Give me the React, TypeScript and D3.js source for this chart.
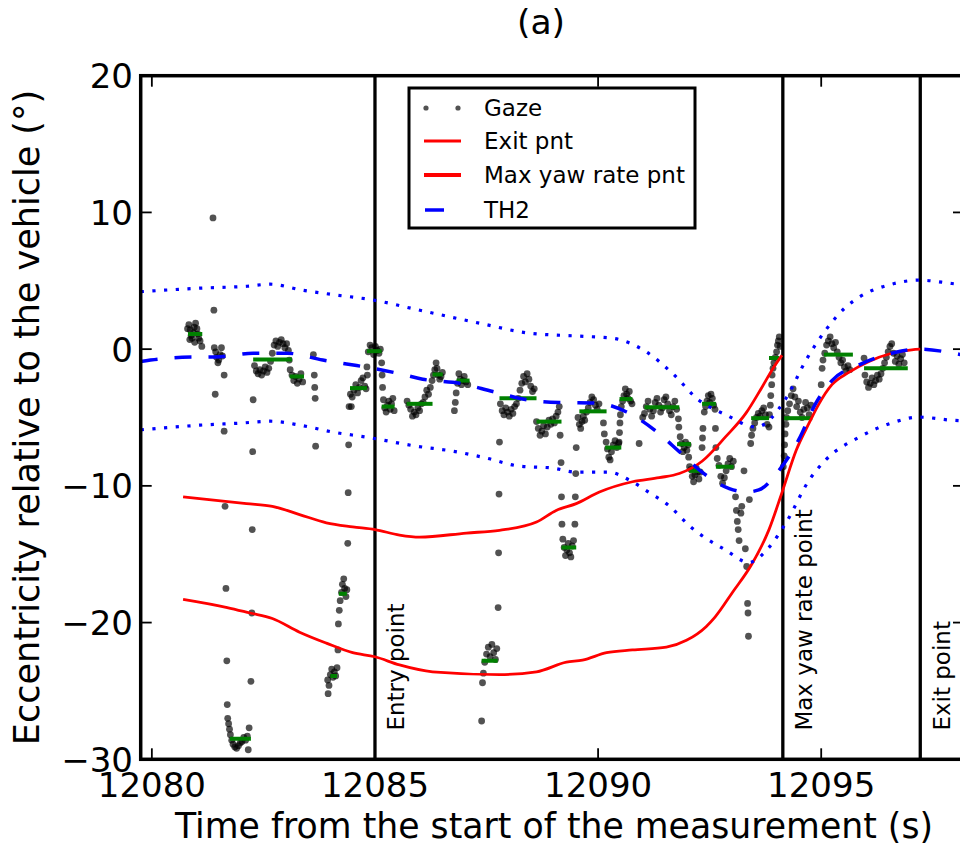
import React from "react";
import * as d3 from "d3";

// ---------- data ----------
const xTicks = [12080, 12085, 12090, 12095];
const yTicks = [-30, -20, -10, 0, 10, 20];

// gaze samples [time (s), eccentricity (deg)]
const gaze: [number, number][] = [
  [12080.80, 1.5], [12080.83, 1.8], [12080.85, 0.7], [12080.86, 1.4], [12080.88, 1.0], [12080.90, 0.8],
  [12080.93, 1.2], [12080.95, 1.6], [12080.96, 0.5], [12080.98, 1.9], [12081.01, 1.5], [12081.03, 1.1],
  [12081.05, 0.8], [12081.08, 0.6], [12081.12, 0.2],
  [12081.37, 9.6], [12081.39, 2.85],
  [12081.40, 0.1], [12081.43, -0.2], [12081.45, -0.6], [12081.48, -1.0], [12081.50, -0.8], [12081.53, -0.4],
  [12081.56, 0.1], [12081.58, -0.5], [12081.42, -3.3], [12081.62, -1.9], [12081.62, -6.0],
  [12081.64, -11.5], [12081.66, -17.5], [12081.68, -22.8], [12081.69, -26.0],
  [12081.70, -27.0], [12081.72, -27.4], [12081.74, -27.8], [12081.76, -28.2], [12081.79, -28.6],
  [12081.82, -28.9], [12081.86, -29.1], [12081.90, -29.2], [12081.94, -29.0], [12081.98, -28.8],
  [12082.02, -28.7], [12082.06, -28.4], [12082.10, -28.6], [12082.14, -28.3], [12082.18, -27.7],
  [12082.16, -29.3],
  [12082.22, -24.3], [12082.24, -19.3], [12082.25, -13.2], [12082.26, -7.5], [12082.27, -3.7],
  [12082.30, -1.2], [12082.34, -1.6], [12082.38, -1.8], [12082.42, -1.5], [12082.46, -1.9], [12082.50, -1.6],
  [12082.54, -1.3], [12082.58, -1.7], [12082.62, -1.4], [12082.66, -0.9], [12082.70, -0.3], [12082.74, 0.3],
  [12082.78, 0.6], [12082.82, 0.2], [12082.86, 0.5], [12082.90, 0.7], [12082.94, 0.4], [12082.98, 0.1],
  [12083.02, 0.4], [12083.06, -0.1], [12083.08, -0.8],
  [12083.10, -1.5], [12083.14, -1.9], [12083.18, -2.3], [12083.22, -2.0], [12083.26, -2.5], [12083.30, -2.2],
  [12083.34, -1.8], [12083.38, -2.4],
  [12083.62, -0.4], [12083.64, -1.9], [12083.65, -2.8], [12083.66, -3.6], [12083.67, -7.1],
  [12083.94, -24.2], [12083.95, -25.2], [12083.97, -24.6], [12084.00, -23.8], [12084.03, -23.4],
  [12084.06, -24.0], [12084.09, -23.6], [12084.12, -23.9], [12084.15, -23.3],
  [12084.17, -22.0], [12084.18, -20.1],
  [12084.20, -19.1], [12084.22, -18.4], [12084.25, -17.8], [12084.27, -17.2], [12084.30, -16.8],
  [12084.32, -17.5], [12084.35, -18.1], [12084.37, -17.6],
  [12084.39, -14.2], [12084.40, -10.5], [12084.41, -7.0], [12084.42, -4.2],
  [12084.45, -3.3], [12084.47, -4.2], [12084.49, -3.5], [12084.53, -3.0], [12084.57, -2.6], [12084.61, -3.2],
  [12084.65, -2.8], [12084.69, -2.3], [12084.73, -2.1], [12084.77, -2.7], [12084.80, -2.9],
  [12084.82, -1.3], [12084.83, -1.9],
  [12084.85, -0.2], [12084.89, 0.3], [12084.93, 0.1], [12084.97, -0.4], [12085.01, 0.2], [12085.05, -0.1],
  [12085.09, -0.3], [12085.12, 0.0],
  [12085.15, -1.0], [12085.16, -1.9], [12085.17, -2.8],
  [12085.19, -3.7], [12085.22, -4.3], [12085.25, -4.6], [12085.28, -4.1], [12085.31, -3.8], [12085.34, -4.4],
  [12085.37, -4.0], [12085.40, -3.6], [12085.43, -4.5],
  [12085.72, -3.8], [12085.76, -4.1], [12085.80, -4.4], [12085.84, -4.9], [12085.88, -4.6], [12085.92, -4.8],
  [12085.96, -4.3], [12086.00, -4.5], [12086.04, -4.0], [12086.08, -3.9], [12086.12, -3.5], [12086.16, -3.0],
  [12086.20, -3.3], [12086.24, -2.8],
  [12086.28, -2.3], [12086.31, -1.9], [12086.34, -1.5], [12086.37, -1.0], [12086.39, -1.4], [12086.42, -1.9],
  [12086.45, -2.2], [12086.48, -2.0], [12086.51, -1.7],
  [12086.78, -4.5], [12086.80, -3.9], [12086.82, -3.2],
  [12086.85, -2.5], [12086.88, -1.8], [12086.91, -2.2], [12086.94, -2.6], [12086.97, -2.3], [12087.00, -2.0],
  [12087.04, -2.4], [12087.08, -2.6],
  [12087.39, -27.2], [12087.41, -24.4], [12087.43, -23.7], [12087.46, -22.9], [12087.50, -22.3],
  [12087.54, -21.8], [12087.58, -22.5], [12087.62, -21.6], [12087.66, -22.2], [12087.70, -22.7],
  [12087.73, -21.9],
  [12087.76, -18.9], [12087.77, -14.9], [12087.78, -10.6], [12087.79, -6.8],
  [12087.81, -4.0], [12087.85, -4.5], [12087.89, -4.8], [12087.93, -4.3], [12087.97, -4.6], [12088.01, -4.9],
  [12088.05, -4.4], [12088.09, -4.7], [12088.13, -4.2], [12088.17, -4.0], [12088.21, -3.6], [12088.25, -3.0],
  [12088.29, -2.5], [12088.33, -2.0], [12088.37, -2.4], [12088.41, -1.8], [12088.45, -2.2], [12088.49, -2.7],
  [12088.53, -3.1], [12088.57, -2.9],
  [12088.62, -5.3], [12088.66, -5.8], [12088.70, -6.3], [12088.74, -6.0], [12088.78, -5.6], [12088.82, -6.2],
  [12088.86, -5.7], [12088.90, -5.2], [12088.94, -5.5], [12088.98, -5.1], [12089.02, -5.4], [12089.06, -4.9],
  [12089.10, -4.6], [12089.13, -4.2],
  [12089.15, -6.3], [12089.17, -8.3], [12089.18, -10.8], [12089.19, -12.8],
  [12089.21, -13.9], [12089.24, -14.5], [12089.27, -15.1], [12089.30, -14.7], [12089.33, -14.2],
  [12089.36, -14.9], [12089.39, -15.2], [12089.42, -14.4], [12089.45, -14.0],
  [12089.48, -12.8], [12089.49, -10.8], [12089.50, -9.1], [12089.51, -7.2],
  [12089.55, -5.0], [12089.58, -5.5], [12089.61, -5.8], [12089.64, -5.3], [12089.67, -4.9], [12089.70, -5.2],
  [12089.74, -4.6], [12089.78, -4.3], [12089.82, -3.9], [12089.86, -3.5], [12089.90, -3.7], [12089.94, -4.1],
  [12089.98, -4.4], [12090.02, -4.0],
  [12090.12, -5.4], [12090.14, -6.2],
  [12090.18, -6.8], [12090.21, -7.3], [12090.24, -7.9], [12090.27, -8.1], [12090.30, -7.5], [12090.34, -7.0],
  [12090.38, -6.7], [12090.42, -7.2], [12090.46, -6.9],
  [12090.47, -6.8], [12090.48, -6.1], [12090.49, -5.4], [12090.50, -4.8],
  [12090.52, -4.2], [12090.55, -3.8], [12090.58, -3.4], [12090.61, -2.9], [12090.64, -3.3], [12090.67, -3.6],
  [12090.70, -3.1], [12090.73, -3.8], [12090.76, -4.0],
  [12090.92, -6.9],
  [12091.00, -5.0], [12091.04, -4.7], [12091.08, -4.2], [12091.12, -3.8], [12091.16, -4.4], [12091.20, -4.9],
  [12091.24, -4.5], [12091.28, -3.9], [12091.32, -3.6], [12091.36, -4.1], [12091.40, -4.6], [12091.44, -4.3],
  [12091.48, -3.7], [12091.52, -3.5], [12091.56, -4.0], [12091.60, -4.5], [12091.64, -4.8], [12091.68, -4.2],
  [12091.72, -3.8], [12091.76, -4.4], [12091.80, -5.1], [12091.81, -5.7],
  [12091.84, -6.4], [12091.87, -6.9], [12091.90, -7.5], [12091.93, -7.2], [12091.96, -6.8], [12091.99, -7.4],
  [12092.02, -7.0], [12092.03, -7.9], [12092.05, -8.6],
  [12092.08, -8.8], [12092.11, -9.3], [12092.14, -9.7], [12092.17, -9.2], [12092.20, -8.7], [12092.23, -9.0],
  [12092.26, -9.5], [12092.29, -9.0],
  [12092.33, -7.2], [12092.34, -6.5], [12092.35, -5.8],
  [12092.38, -4.6], [12092.41, -4.2], [12092.44, -3.8], [12092.47, -3.4], [12092.50, -3.9], [12092.53, -3.3],
  [12092.56, -3.6], [12092.59, -4.1], [12092.62, -4.4],
  [12092.63, -5.8], [12092.64, -7.2],
  [12092.67, -8.0], [12092.71, -8.5], [12092.75, -9.3], [12092.79, -9.8], [12092.83, -9.4], [12092.87, -8.9],
  [12092.91, -8.4], [12092.95, -8.0], [12092.99, -8.6], [12093.03, -8.2],
  [12093.08, -10.8], [12093.10, -11.8], [12093.12, -12.6], [12093.14, -13.2], [12093.16, -14.0],
  [12093.20, -12.0], [12093.22, -11.5], [12093.27, -8.9], [12093.30, -14.6], [12093.33, -15.9],
  [12093.35, -18.6], [12093.36, -19.3], [12093.37, -21.0], [12093.39, -11.0],
  [12093.42, -6.9], [12093.44, -6.3], [12093.47, -5.8], [12093.51, -5.4], [12093.55, -5.0], [12093.59, -4.7],
  [12093.63, -4.9], [12093.67, -4.5], [12093.71, -4.3], [12093.75, -4.8], [12093.79, -5.5],
  [12093.83, -5.7], [12093.84, -4.8], [12093.86, -4.1], [12093.87, -3.4], [12093.89, -2.6], [12093.90, -1.9],
  [12093.92, -1.4],
  [12093.94, -1.0], [12093.97, -0.6], [12094.00, -0.2], [12094.02, 0.3], [12094.04, 0.6], [12094.06, 0.9],
  [12094.08, 0.2],
  [12094.15, -8.6], [12094.17, -7.8], [12094.18, -7.0], [12094.19, -6.2], [12094.21, -5.5], [12094.22, -5.0],
  [12094.25, -4.5], [12094.29, -4.0], [12094.33, -3.4], [12094.37, -2.9], [12094.41, -3.5], [12094.45, -4.2],
  [12094.49, -3.8], [12094.53, -4.6], [12094.57, -5.0], [12094.61, -4.4], [12094.65, -3.9], [12094.69, -4.3],
  [12094.73, -4.8], [12094.77, -4.1],
  [12095.00, -2.6], [12095.02, -1.4], [12095.04, -0.8],
  [12095.08, -0.3], [12095.12, 0.3], [12095.16, 0.6], [12095.20, 0.9], [12095.24, 0.4], [12095.28, 0.1],
  [12095.32, 0.5], [12095.36, -0.2], [12095.40, -0.6], [12095.44, -1.0], [12095.48, -0.8], [12095.52, -1.3],
  [12095.56, -1.6], [12095.60, -1.2], [12095.64, -1.5],
  [12095.96, -0.65], [12095.98, -1.9], [12096.02, -2.4], [12096.06, -2.8], [12096.10, -2.5], [12096.14, -2.1],
  [12096.18, -2.6], [12096.22, -2.3], [12096.26, -1.9], [12096.30, -2.2], [12096.34, -1.8], [12096.38, -1.4],
  [12096.42, -1.0], [12096.46, -0.6], [12096.50, -0.2], [12096.54, 0.2], [12096.58, 0.4], [12096.62, -0.3],
  [12096.66, -0.9], [12096.70, -0.5], [12096.74, -1.1], [12096.78, -0.7], [12096.82, -0.4], [12096.86, -1.0],
];

// fixations (green): start, end, mean eccentricity
const fixStart = [12080.81, 12081.75, 12082.27, 12083.09, 12084.00, 12084.19, 12084.44, 12084.82, 12085.15,
  12085.71, 12086.29, 12086.83, 12087.39, 12087.79, 12088.62, 12089.18, 12089.58, 12090.16, 12090.48,
  12091.04, 12091.77, 12092.04, 12092.33, 12092.64, 12093.43, 12093.83, 12094.17, 12095.06, 12095.96];
const fixEnd = [12081.13, 12082.22, 12083.14, 12083.41, 12084.15, 12084.37, 12084.82, 12085.15, 12085.44,
  12086.29, 12086.52, 12087.12, 12087.75, 12088.62, 12089.18, 12089.51, 12090.19, 12090.52, 12090.77,
  12091.82, 12092.08, 12092.33, 12092.64, 12093.04, 12093.83, 12094.06, 12094.80, 12095.71, 12096.94];
const fixValue = [1.1, -28.5, -0.75, -2.0, -23.9, -17.9, -2.85, -0.15, -4.2,
  -4.0, -1.85, -2.3, -22.8, -3.6, -5.3, -14.5, -4.55, -7.2, -3.65,
  -4.25, -6.95, -8.9, -4.0, -8.6, -5.05, -0.65, -5.05, -0.4, -1.4];

// "Max yaw rate pnt" curve
const maxYawT = [12080.70, 12082.12, 12082.70, 12083.31, 12083.91, 12084.50, 12085.00, 12085.55, 12086.00,
  12087.05, 12087.79, 12088.62, 12089.06, 12089.51, 12090.03, 12090.77, 12091.37, 12091.82, 12092.33,
  12092.86, 12093.31, 12093.67, 12093.94, 12094.12];
const maxYawY = [-10.8, -11.3, -11.5, -12.1, -12.7, -13.0, -13.2, -13.6, -13.75,
  -13.45, -13.25, -12.65, -11.8, -11.3, -10.45, -9.7, -9.4, -9.1, -8.2,
  -6.4, -4.7, -2.8, -1.3, -0.45];

// "Exit pnt" curve
const exitT = [12080.70, 12081.69, 12082.20, 12082.70, 12083.31, 12083.91, 12084.50, 12085.00, 12085.55,
  12086.29, 12087.79, 12088.62, 12089.29, 12089.65, 12090.19, 12090.77, 12091.53, 12091.98, 12092.42,
  12092.62, 12093.01, 12093.45, 12093.83, 12094.12, 12094.44, 12094.73, 12094.95, 12095.24, 12095.62,
  12096.07, 12096.58, 12097.03, 12097.22];
const exitY = [-18.3, -18.9, -19.3, -19.7, -20.7, -21.5, -22.2, -22.5, -23.1,
  -23.6, -23.8, -23.6, -22.9, -22.75, -22.2, -22.0, -21.8, -21.3, -20.3,
  -19.6, -17.8, -15.7, -13.2, -10.5, -7.4, -5.4, -4.0, -2.6, -1.7,
  -0.9, -0.3, -0.05, 0.0];

// TH2 (dashed) and its bounds (dotted)
const th2T = [12079.75, 12080.68, 12081.53, 12082.27, 12083.03, 12083.83, 12084.59, 12084.95, 12085.49,
  12086.07, 12086.90, 12087.64, 12088.40, 12089.13, 12089.97, 12090.64, 12091.26, 12091.82, 12092.33,
  12092.94, 12093.33, 12093.60, 12094.06, 12094.50, 12094.88, 12095.24, 12095.85, 12096.58, 12097.19,
  12097.80, 12098.20];
const th2Y = [-0.9, -0.6, -0.55, -0.3, -0.3, -0.8, -1.2, -1.4, -1.75,
  -2.2, -2.5, -3.1, -3.7, -3.9, -3.95, -4.6, -5.9, -7.5, -9.0,
  -10.2, -10.45, -10.3, -8.85, -6.6, -3.95, -2.3, -1.15, -0.3, 0.0,
  -0.2, -0.45];

const upperT = [12079.75, 12081.08, 12082.13, 12082.65, 12083.39, 12084.15, 12084.95, 12085.93, 12087.34,
  12088.46, 12089.58, 12090.32, 12091.08, 12091.66, 12092.26, 12092.86, 12093.54, 12094.21, 12094.66,
  12095.10, 12095.55, 12095.85, 12096.58, 12097.19, 12097.93, 12098.20];
const upperY = [4.2, 4.46, 4.6, 4.75, 4.3, 3.95, 3.6, 2.9, 1.9,
  1.17, 0.95, 0.8, -0.2, -1.75, -3.73, -4.8, -5.7, -3.6, -0.8,
  1.39, 3.07, 3.8, 4.75, 5.05, 4.8, 4.7];

const lowerT = [12079.75, 12081.08, 12082.04, 12082.65, 12083.32, 12084.06, 12084.82, 12085.93, 12086.74,
  12087.50, 12088.24, 12088.98, 12089.51, 12090.25, 12090.70, 12091.15, 12091.53, 12092.11, 12092.86,
  12093.38, 12093.83, 12094.21, 12094.73, 12095.10, 12095.85, 12096.58, 12097.19, 12097.93, 12098.20];
const lowerY = [-5.9, -5.56, -5.4, -5.27, -5.56, -6.07, -6.44, -7.1, -7.46,
  -7.97, -8.56, -8.7, -9.0, -9.0, -9.58, -10.5, -11.3, -13.1, -14.7,
  -15.6, -14.5, -12.7, -9.58, -8.1, -6.44, -5.4, -4.97, -5.2, -5.25];

// event markers
const eventTimes = [12085.0, 12094.14, 12097.22];
const eventLabels = ["Entry point", "Max yaw rate point", "Exit point"];

const legendLabels = ["Gaze", "Exit pnt", "Max yaw rate pnt", "TH2"];

// ---------- component ----------
export default function App() {
  const FONT = "DejaVu Sans, Verdana, sans-serif";
  const left = 140.7, right = 964, top = 75.7, bottom = 759.3;
  const x = d3.scaleLinear().domain([12079.75, 12098.2]).range([left, right]);
  const y = d3.scaleLinear().domain([-30, 20]).range([bottom, top]);

  const zip = (ts: number[], vs: number[]) => ts.map((t, i) => [t, vs[i]] as [number, number]);
  const smooth = d3.line<[number, number]>().x(d => x(d[0])).y(d => y(d[1])).curve(d3.curveMonotoneX);

  const tickLen = 11;
  const minus = (v: number) => (v < 0 ? "\u2212" + Math.abs(v) : String(v));

  const legX = 409, legY = 88, legW = 286, legH = 140;
  const rowY = [108, 141, 175, 210];

  return (
    <svg width={960} height={849} style={{ position: "absolute", left: 0, top: 0, background: "#fff" }}
      fontFamily={FONT}>
      <rect x={0} y={0} width={960} height={849} fill="#fff" />
      <defs>
        <clipPath id="plotClip">
          <rect x={left} y={top} width={right - left} height={bottom - top} />
        </clipPath>
      </defs>

      <g clipPath="url(#plotClip)">
        {/* event lines */}
        {eventTimes.map((t, i) => (
          <line key={"ev" + i} x1={x(t)} x2={x(t)} y1={top} y2={bottom} stroke="#000" strokeWidth={3.3} />
        ))}
        {/* gaze */}
        {gaze.map((d, i) => (
          <circle key={"g" + i} cx={x(d[0])} cy={y(d[1])} r={3.4} fill="#000" fillOpacity={0.68} />
        ))}
        {/* fixations */}
        {fixStart.map((s, i) => (
          <line key={"f" + i} x1={x(s)} x2={x(fixEnd[i])} y1={y(fixValue[i])} y2={y(fixValue[i])}
            stroke="#008000" strokeWidth={4} />
        ))}
        {/* red curves */}
        <path d={smooth(zip(exitT, exitY)) || ""} fill="none" stroke="#ff0000" strokeWidth={2.8} />
        <path d={smooth(zip(maxYawT, maxYawY)) || ""} fill="none" stroke="#ff0000" strokeWidth={2.8} />
        {/* TH2 and bounds */}
        <path d={smooth(zip(th2T, th2Y)) || ""} fill="none" stroke="#0000ff" strokeWidth={3.5}
          strokeDasharray="17 17" />
        <path d={smooth(zip(upperT, upperY)) || ""} fill="none" stroke="#0000ff" strokeWidth={3.2}
          strokeDasharray="3.2 8.5" />
        <path d={smooth(zip(lowerT, lowerY)) || ""} fill="none" stroke="#0000ff" strokeWidth={3.2}
          strokeDasharray="3.2 8.5" />
      </g>

      {/* event labels */}
      {eventTimes.map((t, i) => (
        <text key={"el" + i} transform={`translate(${x(t) + 29.5},${y(-27.9)}) rotate(-90)`}
          fontSize={23} fill="#000">{eventLabels[i]}</text>
      ))}

      {/* ticks */}
      {xTicks.map(t => (
        <g key={"xt" + t}>
          <line x1={x(t)} x2={x(t)} y1={bottom} y2={bottom - tickLen} stroke="#000" strokeWidth={1.8} />
          <line x1={x(t)} x2={x(t)} y1={top} y2={top + tickLen} stroke="#000" strokeWidth={1.8} />
          <text x={x(t)} y={796.7} textAnchor="middle" fontSize={34} fill="#000">{t}</text>
        </g>
      ))}
      {yTicks.map(v => (
        <g key={"yt" + v}>
          <line x1={left} x2={left + tickLen} y1={y(v)} y2={y(v)} stroke="#000" strokeWidth={1.8} />
          <line x1={right} x2={right - tickLen} y1={y(v)} y2={y(v)} stroke="#000" strokeWidth={1.8} />
          <text x={133} y={y(v) + 12.5} textAnchor="end" fontSize={34} fill="#000">{minus(v)}</text>
        </g>
      ))}

      {/* frame */}
      <rect x={left} y={top} width={right - left} height={bottom - top} fill="none" stroke="#000" strokeWidth={3.5} />

      {/* legend */}
      <rect x={legX} y={legY} width={legW} height={legH} fill="#fff" stroke="#000" strokeWidth={3} />
      <circle cx={426} cy={rowY[0]} r={2.6} fill="#000" fillOpacity={0.68} />
      <circle cx={458} cy={rowY[0]} r={2.6} fill="#000" fillOpacity={0.68} />
      <line x1={424} x2={461} y1={rowY[1]} y2={rowY[1]} stroke="#ff0000" strokeWidth={3} />
      <line x1={424} x2={461} y1={rowY[2]} y2={rowY[2]} stroke="#ff0000" strokeWidth={4} />
      <line x1={425} x2={444} y1={rowY[3]} y2={rowY[3]} stroke="#0000ff" strokeWidth={3.5} />
      {legendLabels.map((l, i) => (
        <text key={"lg" + i} x={484} y={rowY[i] + 8.3} fontSize={23} fill="#000">{l}</text>
      ))}

      {/* titles */}
      <text x={541} y={34} textAnchor="middle" fontSize={34.5} fill="#000">(a)</text>
      <text x={554} y={838} textAnchor="middle" fontSize={34.7} fill="#000">
        Time from the start of the measurement (s)
      </text>
      <text transform={`translate(39,${(top + bottom) / 2}) rotate(-90)`} textAnchor="middle" fontSize={35}
        fill="#000">Eccentricity relative to the vehicle (°)</text>
    </svg>
  );
}
